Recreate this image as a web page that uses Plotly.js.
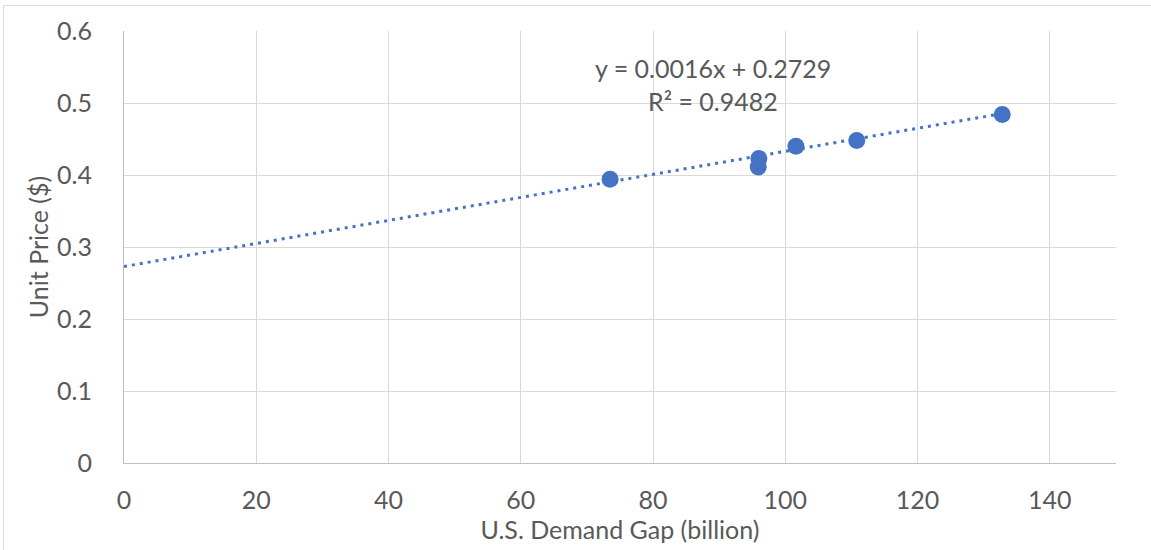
<!DOCTYPE html>
<html><head><meta charset="utf-8">
<script src="https://cdn.plot.ly/plotly-3.0.1.min.js"></script>
<style>
html,body{margin:0;padding:0;background:#fff;}
#frame{position:absolute;left:3px;top:5px;width:1160px;height:560px;border:1px solid #d9d9d9;box-sizing:border-box;}
#chart{position:absolute;left:0;top:0;width:1151px;height:550px;}
</style></head>
<body><div id="frame"></div><div id="chart"></div>
<script>
const demandGap = [73.5, 95.9, 96.0, 101.6, 110.8, 132.8];
const unitPrice = [0.394, 0.411, 0.423, 0.440, 0.448, 0.484];
const trendSlope = 0.0016;
const trendIntercept = 0.2729;
const rSquared = 0.9482;
const xTicks = [0, 20, 40, 60, 80, 100, 120, 140];
const yTicks = [0, 0.1, 0.2, 0.3, 0.4, 0.5, 0.6];
const yTickText = ['0', '0.1', '0.2', '0.3', '0.4', '0.5', '0.6'];

const trendX = [0, Math.max(...demandGap)];
const trendY = trendX.map(x => trendSlope * x + trendIntercept);
const blue = '#4472C4';
const txt = '#595959';
const font = 'Lato, "Open Sans", sans-serif';
const fs = 25;

const data = [
  {x: trendX, y: trendY, type: 'scatter', mode: 'lines',
   line: {color: blue, width: 3, dash: '3px,5px'}, hoverinfo: 'skip'},
  {x: demandGap, y: unitPrice, type: 'scatter', mode: 'markers',
   marker: {color: blue, size: 17}}
];
const layout = {
  width: 1151, height: 550,
  margin: {l: 124, r: 35, t: 31, b: 87},
  paper_bgcolor: 'rgba(0,0,0,0)', plot_bgcolor: '#fff',
  showlegend: false,
  font: {family: font, color: txt, size: fs},
  xaxis: {range: [0, 150], tickvals: xTicks, ticks: '', showgrid: true,
    gridcolor: '#d9d9d9', gridwidth: 1, showline: true, linecolor: '#bfbfbf', linewidth: 1,
    zeroline: false, ticklabelstandoff: 15, tickfont: {size: fs, color: txt},
    title: {text: 'U.S. Demand Gap (billion)', font: {size: fs, color: txt}, standoff: 0}},
  yaxis: {range: [0, 0.6], tickvals: yTicks, ticktext: yTickText, ticks: '', showgrid: true,
    gridcolor: '#d9d9d9', gridwidth: 1, showline: true, linecolor: '#bfbfbf', linewidth: 1,
    zeroline: false, ticklabelstandoff: 26, tickfont: {size: fs, color: txt},
    title: {text: 'Unit Price ($)', font: {size: fs, color: txt}, standoff: 1}},
  annotations: [
    {x: 89, y: 0.549, xref: 'x', yref: 'y', showarrow: false,
     text: 'y = ' + trendSlope.toFixed(4) + 'x + ' + trendIntercept.toFixed(4),
     font: {size: fs, color: txt}},
    {x: 89, y: 0.503, xref: 'x', yref: 'y', showarrow: false,
     text: 'R² = ' + rSquared.toFixed(4), font: {size: fs, color: txt}}
  ]
};
Plotly.newPlot('chart', data, layout, {displayModeBar: false, staticPlot: true});
</script></body></html>
